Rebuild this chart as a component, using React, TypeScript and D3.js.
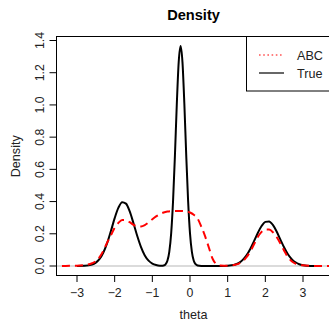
import React from "react";
import * as d3 from "d3";

// "True" density curve
const thetaTrue = [
  -3.0, -2.8, -2.6, -2.5, -2.4, -2.3, -2.2, -2.1, -2.0, -1.9, -1.8, -1.7, -1.6, -1.5, -1.4, -1.3,
  -1.2, -1.1, -1.0, -0.9, -0.8, -0.75, -0.7, -0.65, -0.6, -0.55, -0.5, -0.45, -0.4, -0.35, -0.3,
  -0.25, -0.2, -0.15, -0.1, -0.05, 0.0, 0.05, 0.1, 0.15, 0.2, 0.3, 0.5, 0.8, 1.0, 1.1, 1.2, 1.3,
  1.4, 1.5, 1.6, 1.7, 1.8, 1.9, 2.0, 2.1, 2.2, 2.3, 2.4, 2.5, 2.6, 2.7, 2.8, 2.9, 3.0, 3.2, 3.4,
];
const densityTrue = [
  0.0001, 0.0011, 0.0086, 0.021, 0.044, 0.084, 0.142, 0.217, 0.297, 0.362, 0.396, 0.387, 0.339,
  0.265, 0.186, 0.117, 0.065, 0.033, 0.015, 0.006, 0.0022, 0.0019, 0.0035, 0.0108, 0.0327, 0.088,
  0.203, 0.403, 0.687, 1.007, 1.266, 1.366, 1.266, 1.007, 0.687, 0.403, 0.203, 0.088, 0.033, 0.011,
  0.003, 0.0003, 0.0, 0.0003, 0.0016, 0.0041, 0.0093, 0.0197, 0.038, 0.066, 0.106, 0.154, 0.205,
  0.248, 0.274, 0.277, 0.255, 0.214, 0.164, 0.115, 0.073, 0.043, 0.023, 0.011, 0.005, 0.0007, 0.0001,
];

// ABC density curve
const thetaAbc = [
  -3.4, -3.2, -3.0, -2.8, -2.6, -2.5, -2.4, -2.3, -2.2, -2.1, -2.0, -1.9, -1.8, -1.7, -1.6, -1.5,
  -1.4, -1.3, -1.2, -1.1, -1.0, -0.9, -0.8, -0.7, -0.6, -0.5, -0.4, -0.3, -0.2, -0.1, 0.0, 0.1, 0.2,
  0.3, 0.4, 0.5, 0.6, 0.7, 0.8, 0.9, 1.0, 1.1, 1.2, 1.3, 1.4, 1.5, 1.6, 1.7, 1.8, 1.9, 2.0, 2.1, 2.2,
  2.3, 2.4, 2.5, 2.6, 2.7, 2.8, 2.9, 3.0, 3.2, 3.4, 3.6, 3.8,
];
const densityAbc = [
  0.0, 0.001, 0.002, 0.006, 0.017, 0.03, 0.055, 0.095, 0.145, 0.19, 0.238, 0.268, 0.285, 0.285,
  0.272, 0.256, 0.246, 0.246, 0.254, 0.27, 0.29, 0.308, 0.322, 0.332, 0.338, 0.341, 0.342, 0.342,
  0.341, 0.338, 0.332, 0.318, 0.295, 0.245, 0.185, 0.115, 0.045, 0.012, 0.003, 0.002, 0.002, 0.004,
  0.008, 0.015, 0.03, 0.055, 0.09, 0.135, 0.18, 0.212, 0.227, 0.226, 0.21, 0.18, 0.14, 0.095, 0.055,
  0.03, 0.015, 0.007, 0.004, 0.001, 0.0, 0.0, 0.0,
];

const xTicks = [-3, -2, -1, 0, 1, 2, 3];
const yTicks = [0, 0.2, 0.4, 0.6, 0.8, 1.0, 1.2, 1.4];
const legendLabels = ["ABC", "True"];

const W = 329;
const H = 322;
const FONT = "'Liberation Sans', Arial, Helvetica, sans-serif";

export default function App() {
  // plot region (right edge falls just outside the picture)
  const left = 56, top = 37, bottom = 275.5, right = 330;

  const x = d3.scaleLinear().domain([-3, 3]).range([77, 303]);
  const y = d3.scaleLinear().domain([0, 1.4]).range([266, 40.5]);
  const fmtY = d3.format(".1f");
  const fmtX = d3.format("d");

  const truePath = d3.line<number>().curve(d3.curveMonotoneX)
    .x((_, i) => x(thetaTrue[i])).y(d => y(d))(densityTrue) || "";
  const abcPath = d3.line<number>().curve(d3.curveMonotoneX)
    .x((_, i) => x(thetaAbc[i])).y(d => y(d))(densityAbc) || "";

  const legX = 246.5, legY = 36.5, legH = 54.5;
  const rowY = [55, 73];

  return (
    <svg width={W} height={H} style={{ position: "absolute", left: 0, top: 0, background: "#fff" }}
      fontFamily={FONT}>
      <defs>
        <clipPath id="plot-clip">
          <rect x={left} y={top} width={right - left} height={bottom - top} />
        </clipPath>
      </defs>

      {/* title */}
      <text x={193.5} y={19.5} textAnchor="middle" fontSize={14.6} fontWeight="bold" fill="#000">Density</text>

      {/* zero reference line */}
      <line x1={left} x2={right} y1={y(0)} y2={y(0)} stroke="#cfcfcf" strokeWidth={1.5} />

      <g clipPath="url(#plot-clip)">
        <path d={truePath} fill="none" stroke="#000" strokeWidth={2} strokeLinejoin="round" />
        <path d={abcPath} fill="none" stroke="#ff0000" strokeWidth={2} strokeDasharray="8,5" />
      </g>

      {/* box */}
      <rect x={left + 0.5} y={top - 0.5} width={right - left} height={bottom - top + 0.5}
        fill="none" stroke="#000" strokeWidth={1} />

      {/* x axis */}
      <line x1={x(-3)} x2={x(3)} y1={bottom} y2={bottom} stroke="#000" />
      {xTicks.map(t => (
        <g key={t}>
          <line x1={x(t)} x2={x(t)} y1={bottom} y2={bottom + 6.5} stroke="#000" />
          <text x={x(t)} y={297} textAnchor="middle" fontSize={12.3} fill="#222">{fmtX(t)}</text>
        </g>
      ))}
      <text x={193.5} y={319} textAnchor="middle" fontSize={12.6} fill="#222">theta</text>

      {/* y axis */}
      {yTicks.map(t => (
        <g key={t}>
          <line x1={left} x2={left - 6.5} y1={y(t)} y2={y(t)} stroke="#000" />
          <text transform={`translate(43.5,${y(t)}) rotate(-90)`} textAnchor="middle" fontSize={12.3}
            fill="#222">{fmtY(t)}</text>
        </g>
      ))}
      <text transform={`translate(19.5,${(top + bottom) / 2}) rotate(-90)`} textAnchor="middle"
        fontSize={12.6} fill="#222">Density</text>

      {/* legend */}
      <rect x={legX} y={legY} width={100} height={legH} fill="#fff" stroke="#000" strokeWidth={1} />
      {legendLabels.map((lab, i) => (
        <g key={lab}>
          <line x1={259} x2={284} y1={rowY[i]} y2={rowY[i]}
            stroke={i === 0 ? "#ff0000" : "#000"} strokeWidth={1.2}
            strokeDasharray={i === 0 ? "1.6,2.6" : undefined} />
          <text x={297} y={rowY[i] + 4.5} fontSize={12.6} fill="#222">{lab}</text>
        </g>
      ))}
    </svg>
  );
}
